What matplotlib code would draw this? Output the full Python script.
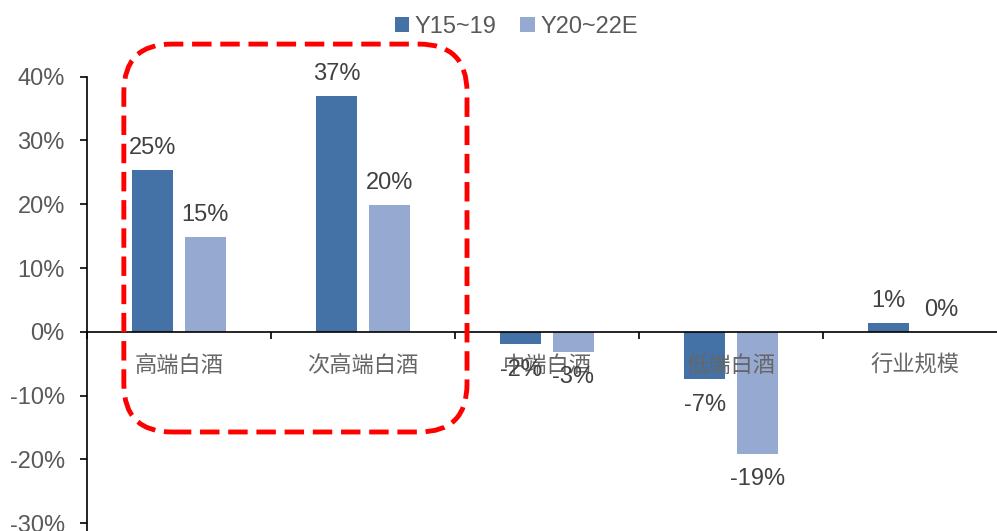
#!/usr/bin/env python3
'''Liquor segment growth: Y15~19 vs Y20~22E, grouped bars.'''

import numpy as np
import matplotlib
matplotlib.use('Agg')
import matplotlib.pyplot as plt
from matplotlib.patches import FancyBboxPatch
from matplotlib.transforms import IdentityTransform

categories = ['高端白酒', '次高端白酒', '中端白酒', '低端白酒', '行业规模']
growth_15_19 = [25.3, 37.0, -1.9, -7.4, 1.4]
growth_20_22 = [14.9, 19.9, -3.1, -19.1, 0.0]
series_names = ['Y15~19', 'Y20~22E']
y_ticks = [-40, -30, -20, -10, 0, 10, 20, 30, 40]

DARK = '#4472a6'
LIGHT = '#95a9d1'
TEXT = '#595959'

plt.rcParams['font.family'] = ['Liberation Sans', 'DejaVu Sans']

fig = plt.figure(figsize=(9.97, 5.31), dpi=100)
ax = fig.add_axes([0.0873, -0.1055, 0.9228, 0.9612])

x = np.arange(len(categories))
w = 0.223
off = 0.143
b1 = ax.bar(x - off, growth_15_19, w, color=DARK, label=series_names[0])
b2 = ax.bar(x + off, growth_20_22, w, color=LIGHT, label=series_names[1])

# value labels: above for positive, below for negative
for bars, vals in ((b1, growth_15_19), (b2, growth_20_22)):
    for rect, v in zip(bars, vals):
        cx = rect.get_x() + rect.get_width() / 2
        if v >= 0:
            ax.annotate('%d%%' % round(v), (cx, v), xytext=(0, 8),
                        textcoords='offset points', ha='center', va='bottom',
                        fontsize=17, color='#404040')
        else:
            ax.annotate('%d%%' % round(v), (cx, v), xytext=(0, -10.5),
                        textcoords='offset points', ha='center', va='top',
                        fontsize=17, color='#404040')

ax.set_xlim(-0.5, len(categories) - 0.5)
ax.set_ylim(-40, 40)
ax.set_yticks(y_ticks)
ax.set_yticklabels(['%d%%' % t for t in y_ticks])

for s in ('top', 'right'):
    ax.spines[s].set_visible(False)
ax.spines['bottom'].set_position(('data', 0))
ax.spines['left'].set_linewidth(1.2)
ax.spines['bottom'].set_linewidth(1.2)

ax.tick_params(axis='y', direction='out', length=5, width=1.2, pad=11,
               labelsize=17, labelcolor=TEXT)

# category boundaries get the tick marks, centres get the names
ax.set_xticks(np.arange(len(categories) + 1) - 0.5)
ax.set_xticklabels([])
ax.tick_params(axis='x', which='major', direction='out', length=5, width=1.2)
ax.set_xticks(x, minor=True)
ax.set_xticklabels(categories, minor=True, family=['Noto Sans CJK SC', 'DejaVu Sans'],
                   fontsize=16, color='#666666')
ax.tick_params(axis='x', which='minor', length=0, pad=16)
for lbl in ax.get_xticklabels(minor=True):
    lbl.set_zorder(5)

fig.legend(loc='center', bbox_to_anchor=(0.518, 0.949), ncol=2, frameon=False,
           fontsize=17, labelcolor=TEXT, handlelength=0.6, handleheight=0.6,
           handletextpad=0.25, columnspacing=1.0)

# dashed rounded frame around the two high-end groups
fig.canvas.draw()
(x0, y0), (x1, y1) = ax.transData.transform([(-0.3, -15.7), (1.565, 45.1)])
frame = FancyBboxPatch((x0, y0), x1 - x0, y1 - y0,
                       boxstyle='round,pad=0,rounding_size=48',
                       transform=IdentityTransform(), fill=False,
                       edgecolor='#ff0000', linewidth=3.5,
                       linestyle=(0, (4, 1.8)), zorder=10)
fig.add_artist(frame)

fig.savefig('out.png', dpi=100)
